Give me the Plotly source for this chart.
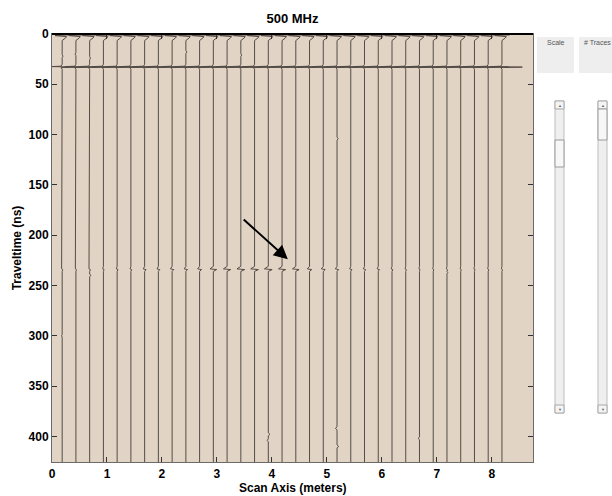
import plotly.graph_objects as go

# ---- GPR profile, 500 MHz antenna -------------------------------------
# trace positions along the scan line (m)
trace_x = [0.185, 0.435, 0.685, 0.935, 1.185, 1.435, 1.685, 1.935, 2.185,
           2.435, 2.685, 2.935, 3.185, 3.435, 3.685, 3.935, 4.185, 4.435,
           4.685, 4.935, 5.185, 5.435, 5.685, 5.935, 6.185, 6.435, 6.685,
           6.935, 7.185, 7.435, 7.685, 7.935, 8.185]

# air/direct wave (time ns, deflection m)
direct_t = [0.0, 0.8, 1.6, 2.6, 4.0, 6.5]
direct_a = [-0.13, 0.14, -0.13, 0.08, 0.06, 0.0]

# ground wave (time ns, deflection m)
ground_t = [30.0, 32.0, 32.4, 32.9, 33.4, 35.0]
ground_a = [0.0, -0.02, -0.20, 0.37, -0.02, 0.0]

# target reflection near 235 ns: wavelet times and per-trace amplitude
refl_t = [231.0, 233.5, 234.2, 236.0]
refl_shape = [0.0, -1.0, 1.0, 0.0]
refl_amp = [0.010, 0.010, 0.012, 0.012, 0.015, 0.015, 0.025, 0.025, 0.03,
            0.03, 0.035, 0.06, 0.065, 0.07, 0.07, 0.07, 0.065, 0.06,
            0.04, 0.035, 0.03, 0.02, 0.02, 0.02, 0.015, 0.012, 0.01,
            0.01, 0.01, 0.01, 0.01, 0.01, 0.01]

# isolated small events: (trace index, time ns, deflection m)
events = [(0, 22.0, 0.015), (1, 20.0, -0.015), (2, 24.0, 0.015),
          (9, 18.0, 0.02), (13, 21.0, 0.015), (20, 104.0, 0.02),
          (15, 398.0, 0.03), (15, 404.0, -0.02), (20, 392.0, -0.03),
          (20, 410.0, 0.03), (26, 402.0, -0.02), (0, 300.0, -0.01),
          (2, 240.0, 0.02), (28, 237.0, 0.015)]

t_end = 425.5

# ---- build wiggle polylines --------------------------------------------
wx, wy = [], []
for k, x0 in enumerate(trace_x):
    pts = list(zip(direct_t, direct_a)) + list(zip(ground_t, ground_a))
    for (ki, te, ae) in events:
        if ki == k:
            pts += [(te - 1.5, 0.0), (te, ae), (te + 1.5, 0.0)]
    pts += [(t, s * refl_amp[k]) for t, s in zip(refl_t, refl_shape)]
    pts.append((t_end, 0.0))
    pts.sort(key=lambda p: p[0])
    for t, a in pts:
        wx.append(x0 + a)
        wy.append(t)
    wx.append(None)
    wy.append(None)

fig = go.Figure()
fig.add_trace(go.Scatter(x=wx, y=wy, mode="lines",
                         line=dict(color="rgb(84,76,70)", width=1),
                         hoverinfo="skip", showlegend=False))

W, H = 612, 496
L, R, T, B = 52, 79, 34, 34
pw, ph = W - L - R, H - T - B


def px(xp):
    return (xp - L) / pw


def py(yp):
    return (H - B - yp) / ph


shapes = []
annos = []

# arrow pointing at the reflection
annos.append(dict(x=4.29, y=224, ax=3.46, ay=183, xref="x", yref="y",
                  axref="x", ayref="y", text="", showarrow=True,
                  arrowhead=2, arrowsize=1.4, arrowwidth=2,
                  arrowcolor="black"))

# control panel boxes
for x0, x1 in [(537, 574), (579, 616)]:
    shapes.append(dict(type="rect", xref="paper", yref="paper",
                       x0=px(x0), x1=px(x1), y0=py(73), y1=py(37),
                       fillcolor="#EEEEEE", line=dict(width=0), layer="below"))
for label, cx in [("Scale", 555.5), ("# Traces", 597.5)]:
    annos.append(dict(x=px(cx), y=py(42), xref="paper", yref="paper",
                      text=label, showarrow=False,
                      font=dict(size=7, color="#555555",
                                family="Liberation Sans, Arial, sans-serif"),
                      xanchor="center", yanchor="middle"))

# scrollbars
for x0, x1, th0, th1 in [(555, 564, 140, 167), (598, 607, 109, 140)]:
    shapes.append(dict(type="rect", xref="paper", yref="paper",
                       x0=px(x0), x1=px(x1), y0=py(413), y1=py(101),
                       fillcolor="#EFEFEF", line=dict(color="#BDBDBD", width=1),
                       layer="below"))
    for b0, b1 in [(101, 109), (405, 413)]:
        shapes.append(dict(type="rect", xref="paper", yref="paper",
                           x0=px(x0), x1=px(x1), y0=py(b1), y1=py(b0),
                           fillcolor="#F4F4F4", line=dict(color="#A8A8A8", width=1),
                           layer="below"))
    shapes.append(dict(type="rect", xref="paper", yref="paper",
                       x0=px(x0), x1=px(x1), y0=py(th1), y1=py(th0),
                       fillcolor="#F7F7F7", line=dict(color="#9A9A9A", width=1),
                       layer="below"))
    cx = (x0 + x1) / 2
    annos.append(dict(x=px(cx), y=py(105), xref="paper", yref="paper",
                      text="▲", showarrow=False,
                      font=dict(size=4, color="#666666"),
                      xanchor="center", yanchor="middle"))
    annos.append(dict(x=px(cx), y=py(409), xref="paper", yref="paper",
                      text="▼", showarrow=False,
                      font=dict(size=4, color="#666666"),
                      xanchor="center", yanchor="middle"))

# dark top border (direct wave saturation)
shapes.append(dict(type="line", xref="paper", yref="paper", x0=0, x1=1,
                   y0=1, y1=1, line=dict(color="black", width=2),
                   layer="above"))

# x-axis title placed below the tick labels
bold = dict(family="Liberation Sans, Arial, sans-serif", size=12,
            color="black", weight="bold")
annos.append(dict(x=0.5, y=py(488), xref="paper", yref="paper",
                  text="Scan Axis (meters)", showarrow=False, font=bold,
                  xanchor="center", yanchor="middle"))

fig.update_layout(
    width=W, height=H,
    margin=dict(l=L, r=R, t=T, b=B, pad=0, autoexpand=False),
    paper_bgcolor="white",
    plot_bgcolor="rgb(226,212,197)",
    title=dict(text="500 MHz", x=(L + pw / 2) / W, xanchor="center",
               y=1 - 18 / H, yanchor="middle", font={**bold, "size": 13}),
    xaxis=dict(range=[0, 8.75], tickvals=[0, 1, 2, 3, 4, 5, 6, 7, 8],
               ticks="inside", ticklen=5, tickcolor="#333333",
               ticklabelstandoff=1, automargin=False,
               showgrid=False, zeroline=False, showline=True,
               linecolor="#6a6a6a", linewidth=1, mirror="ticks",
               tickfont=bold),
    yaxis=dict(range=[425.5, 0], tickvals=[0, 50, 100, 150, 200, 250, 300, 350, 400],
               ticks="inside", ticklen=5, tickcolor="#333333",
               automargin=False,
               showgrid=False, zeroline=False, showline=True,
               linecolor="#6a6a6a", linewidth=1, mirror="ticks",
               tickfont=bold,
               title=dict(text="Traveltime (ns)", font=bold, standoff=4)),
    shapes=shapes,
    annotations=annos,
)

fig.write_html("out.html")
